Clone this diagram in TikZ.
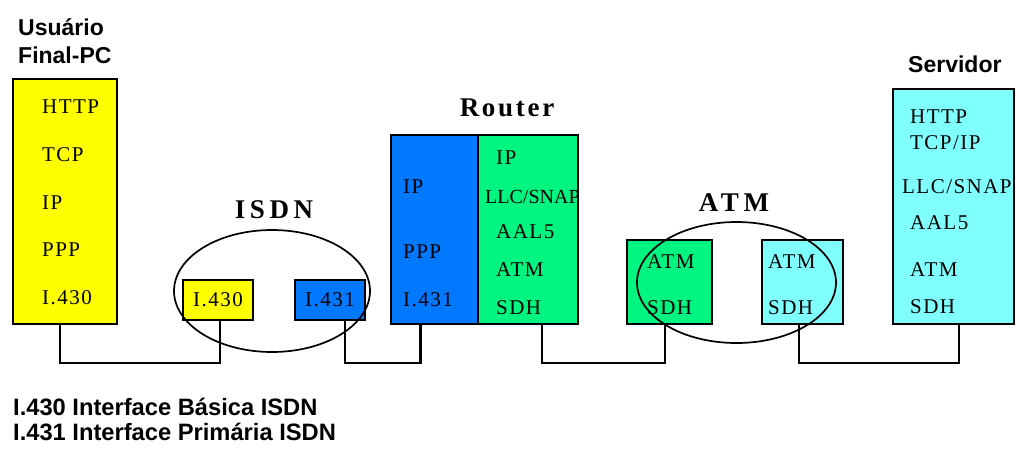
\documentclass[tikz,border=0pt]{standalone}
\usepackage{fontspec}
\newfontfamily\stk[LetterSpace=7]{Liberation Serif}
\newfontfamily\stn{Liberation Serif}
\newfontfamily\bigf[LetterSpace=10]{Liberation Serif}
\newfontfamily\bigw[LetterSpace=17]{Liberation Serif}
\newfontfamily\lbl{Liberation Sans}
\definecolor{cyel}{RGB}{255,255,0}
\definecolor{cblu}{RGB}{0,120,255}
\definecolor{cgrn}{RGB}{0,245,128}
\definecolor{ccya}{RGB}{128,255,255}
\begin{document}
\begin{tikzpicture}[x=1pt,y=-1pt,
  box/.style={draw=black,line width=1.5pt,inner sep=0pt,outer sep=0pt,anchor=north west},
  st/.style={anchor=west,inner sep=0pt,font=\stk\fontsize{21}{23}\selectfont},
  big/.style={inner sep=0pt,font=\bigf\bfseries\fontsize{27}{30}\selectfont},
  bigwide/.style={inner sep=0pt,font=\bigw\bfseries\fontsize{27}{30}\selectfont},
  lb/.style={anchor=west,inner sep=0pt,font=\lbl\bfseries\fontsize{23}{25}\selectfont},
  nt/.style={anchor=west,inner sep=0pt,font=\lbl\bfseries\fontsize{23.7}{26}\selectfont},
  wire/.style={line width=2.8pt,line cap=rect},
  ell/.style={line width=1.7pt}]
\useasboundingbox (0,0) rectangle (1016,448);
% PC
\node[lb] (lu) at (18,27) {Usuário};
\node[lb] (lf) at (18,55) {Final-PC};
\node[box,fill=cyel,minimum width=104pt,minimum height=245pt] (pc) at (13,79) {};
\node[st] (pc1) at (42,107) {HTTP};
\node[st] (pc2) at (42,155) {TCP};
\node[st] (pc3) at (42,203) {IP};
\node[st] (pc4) at (42,250) {PPP};
\node[st] (pc5) at (42,298) {I.430};
% ISDN
\node[bigwide] (isdn) at (274,210) {ISDN};
\node[box,fill=cyel,minimum width=70pt,minimum height=40pt] (ia) at (183,280) {};
\node[st] at (ia.center) [anchor=center] {I.430};
\node[box,fill=cblu,minimum width=70pt,minimum height=40pt] (ib) at (295,280) {};
\node[st] at (ib.center) [anchor=center] {I.431};
\draw[ell] (272,291) ellipse [x radius=98, y radius=61];
% Router
\node[big] (rt) at (507,108) {Router};
\node[box,fill=cblu,minimum width=87pt,minimum height=189pt] (rb) at (391,135) {};
\node[box,fill=cgrn,minimum width=100pt,minimum height=189pt] (rg) at (478,135) {};
\node[st] at (403,187) {IP};
\node[st] at (403,252) {PPP};
\node[st] at (403,300) {I.431};
\node[st] at (496,158) {IP};
\node[st,font=\stn\fontsize{20}{22}\selectfont] at (485,197) {LLC/SNAP};
\node[st] at (496,232) {AAL5};
\node[st] at (496,270) {ATM};
\node[st] at (496,308) {SDH};
% ATM
\node[bigwide] (atm) at (734,203) {ATM};
\node[box,fill=cgrn,minimum width=85pt,minimum height=84pt] (ag) at (627,240) {};
\node[box,fill=ccya,minimum width=81pt,minimum height=84pt] (ac) at (762,240) {};
\node[st] at (647,262) {ATM};
\node[st] at (647,308) {SDH};
\node[st] at (768,262) {ATM};
\node[st] at (768,308) {SDH};
\draw[ell] (736.5,282.5) ellipse [x radius=99.5, y radius=60.5];
% Server
\node[lb] (sv) at (908,64) {Servidor};
\node[box,fill=ccya,minimum width=121pt,minimum height=235pt] (srv) at (893,89) {};
\node[st] at (910,117) {HTTP};
\node[st] at (910,143) {TCP/IP};
\node[st] at (902,187) {LLC/SNAP};
\node[st] at (910,223) {AAL5};
\node[st] at (910,270) {ATM};
\node[st] at (910,307) {SDH};
% wires
\coordinate (w1) at (60,363);
\coordinate (w2) at (345,363);
\coordinate (w3) at (542,363);
\coordinate (w4) at (799,363);
\draw[wire] (w1 |- pc.south) -- (w1) -| (ia.south -| 220,0);
\draw[wire] (w2 |- ib.south) -- (w2) -| ([xshift=-14pt]rb.south);
\draw[wire] (w3 |- rg.south) -- (w3) -| ([xshift=-4.5pt]ag.south);
\draw[wire] (w4 |- ac.south) -- (w4) -| ([xshift=5.5pt]srv.south);
% notes
\node[nt] (n1) at (13,407) {I.430 Interface Básica ISDN};
\node[nt] (n2) at (13,432) {I.431 Interface Primária ISDN};
\end{tikzpicture}
\end{document}
